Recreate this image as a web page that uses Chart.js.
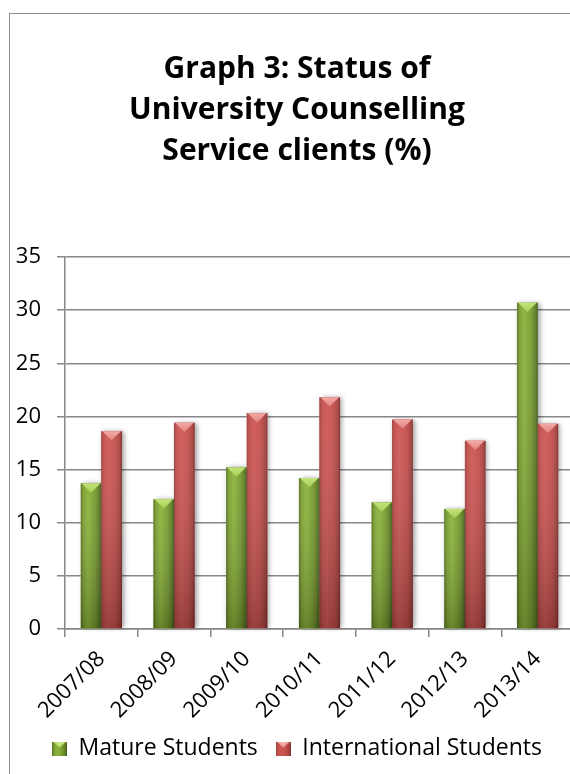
<!DOCTYPE html>
<html>
<head>
<meta charset="utf-8">
<title>Graph 3: Status of University Counselling Service clients</title>
<script src="https://cdn.jsdelivr.net/npm/chart.js@4.4.0/dist/chart.umd.min.js"></script>
<style>
  html, body { margin: 0; padding: 0; background: #fff; overflow: hidden; }
  #frame { position: absolute; left: 9px; top: 13px; width: 700px; height: 900px; border: 1px solid #8c8c8c; }
  #wrap { position: absolute; left: 0; top: 0; width: 596px; height: 774px; }
</style>
</head>
<body>
<div id="frame"></div>
<div id="wrap"><canvas id="myChart" width="596" height="774"></canvas></div>
<script>
"use strict";

// ---------- data ----------
var years = ["2007/08", "2008/09", "2009/10", "2010/11", "2011/12", "2012/13", "2013/14"];
var matureStudents = [13.7, 12.2, 15.2, 14.2, 11.9, 11.3, 30.7];
var internationalStudents = [18.6, 19.4, 20.3, 21.8, 19.7, 17.7, 19.3];
var seriesNames = ["Mature Students", "International Students"];
var titleLines = ["Graph 3: Status of", "University Counselling", "Service clients (%)"];
var yMin = 0;
var yMax = 35;
var yStep = 5;

// ---------- look ----------
var fontFamily = "'Open Sans', Lato, sans-serif";
var gridColor = "#878787";

var barStyles = [
  {
    base: "#77992f",
    stops: [[0, "#55711f"], [0.12, "#7a9e30"], [0.35, "#8cb43b"], [0.7, "#76992e"], [0.9, "#5a7923"], [1, "#3b5216"]],
    cap: "#c3e47a",
    capEdge: "#a6cf55"
  },
  {
    base: "#c0504d",
    stops: [[0, "#983d3a"], [0.12, "#c24e4b"], [0.35, "#cf5754"], [0.7, "#c14e4b"], [0.9, "#a4403d"], [1, "#772b29"]],
    cap: "#f3aaa7",
    capEdge: "#e2827f"
  }
];

// small square with a light wedge on top, used as the legend marker
function makeLegendIcon(style) {
  var c = document.createElement("canvas");
  c.width = 15;
  c.height = 14;
  var g = c.getContext("2d");
  var grad = g.createLinearGradient(0, 0, 15, 0);
  style.stops.forEach(function (s) { grad.addColorStop(s[0], s[1]); });
  g.fillStyle = grad;
  g.fillRect(0, 0, 15, 14);
  g.fillStyle = style.cap;
  g.beginPath();
  g.moveTo(1, 0);
  g.lineTo(14, 0);
  g.lineTo(7.5, 6);
  g.closePath();
  g.fill();
  return c;
}
var legendIcons = barStyles.map(makeLegendIcon);

// axis labels are clipped to their scale box; open the boxes up so the
// y labels can run into the left margin and the slanted years aren't cut
var labelRoom = {
  id: "labelRoom",
  afterLayout: function (chart) {
    chart.scales.y.left = 0;
    chart.scales.x.bottom = chart.height;
  }
};

// paints the bevelled look over the plain bars
var barShading = {
  id: "barShading",
  beforeDatasetsDraw: function (chart) {
    var ctx = chart.ctx;
    ctx.save();
    ctx.shadowColor = "rgba(0,0,0,0.4)";
    ctx.shadowBlur = 5;
    ctx.shadowOffsetX = 2;
    ctx.shadowOffsetY = 0;
    ctx.fillStyle = "#ffffff";
    chart.data.datasets.forEach(function (ds, i) {
      chart.getDatasetMeta(i).data.forEach(function (el) {
        var top = Math.min(el.y, el.base);
        ctx.fillRect(el.x - el.width / 2, top, el.width, Math.abs(el.base - el.y));
      });
    });
    ctx.restore();
  },
  afterDatasetsDraw: function (chart) {
    var ctx = chart.ctx;
    chart.data.datasets.forEach(function (ds, i) {
      var style = barStyles[i];
      chart.getDatasetMeta(i).data.forEach(function (el) {
        var left = el.x - el.width / 2;
        var right = el.x + el.width / 2;
        var top = Math.min(el.y, el.base);
        var bottom = Math.max(el.y, el.base);
        ctx.save();
        var g = ctx.createLinearGradient(left, 0, right, 0);
        style.stops.forEach(function (s) { g.addColorStop(s[0], s[1]); });
        ctx.fillStyle = g;
        ctx.fillRect(left, top, right - left, bottom - top);
        var v = ctx.createLinearGradient(0, top, 0, bottom);
        v.addColorStop(0, "rgba(255,255,255,0.05)");
        v.addColorStop(1, "rgba(0,0,0,0.25)");
        ctx.fillStyle = v;
        ctx.fillRect(left, top, right - left, bottom - top);
        // top wedge
        var capH = el.width * 0.45;
        var cg = ctx.createLinearGradient(0, top, 0, top + capH);
        cg.addColorStop(0, style.cap);
        cg.addColorStop(1, style.capEdge);
        ctx.fillStyle = cg;
        ctx.beginPath();
        ctx.moveTo(left + 1, top);
        ctx.lineTo(right - 1, top);
        ctx.lineTo(el.x, top + capH);
        ctx.closePath();
        ctx.fill();
        ctx.restore();
      });
    });
  }
};

var ctx = document.getElementById("myChart").getContext("2d");
var chart = new Chart(ctx, {
  type: "bar",
  data: {
    labels: years,
    datasets: [
      {
        label: seriesNames[0],
        data: matureStudents,
        backgroundColor: barStyles[0].base,
        borderWidth: 0
      },
      {
        label: seriesNames[1],
        data: internationalStudents,
        backgroundColor: barStyles[1].base,
        borderWidth: 0
      }
    ]
  },
  options: {
    responsive: false,
    animation: false,
    layout: { padding: { left: 20, right: 22, top: 0, bottom: 4 } },
    datasets: {
      bar: { categoryPercentage: 0.565, barPercentage: 1 }
    },
    scales: {
      x: {
        grid: { drawOnChartArea: false, color: gridColor, lineWidth: 1.5, tickLength: 8 },
        border: { color: gridColor, width: 1.5 },
        ticks: {
          color: "#000",
          font: { family: fontFamily, size: 22 },
          padding: 9,
          minRotation: 45,
          maxRotation: 45,
          autoSkip: false
        },
        afterFit: function (scale) { scale.height = 90; }
      },
      y: {
        min: yMin,
        max: yMax,
        grid: { color: gridColor, lineWidth: 1.5, tickLength: 8 },
        border: { color: gridColor, width: 1.5 },
        ticks: {
          stepSize: yStep,
          color: "#000",
          padding: 16,
          font: { family: fontFamily, size: 22 }
        },
        afterFit: function (scale) { scale.width = 45; }
      }
    },
    plugins: {
      title: {
        display: true,
        text: titleLines,
        color: "#000",
        font: { family: fontFamily, size: 30, weight: "bold", lineHeight: 41 / 30 },
        padding: { top: 49, bottom: 85 }
      },
      legend: {
        position: "bottom",
        labels: {
          color: "#000",
          font: { family: fontFamily, size: 23 },
          usePointStyle: true,
          pointStyleWidth: 15,
          boxHeight: 14,
          padding: 18,
          generateLabels: function (c) {
            return c.data.datasets.map(function (ds, i) {
              return {
                text: ds.label,
                fillStyle: barStyles[i].base,
                strokeStyle: barStyles[i].base,
                lineWidth: 0,
                pointStyle: legendIcons[i],
                datasetIndex: i,
                hidden: false
              };
            });
          }
        }
      },
      tooltip: { enabled: false }
    }
  },
  plugins: [labelRoom, barShading]
});
</script>
</body>
</html>
